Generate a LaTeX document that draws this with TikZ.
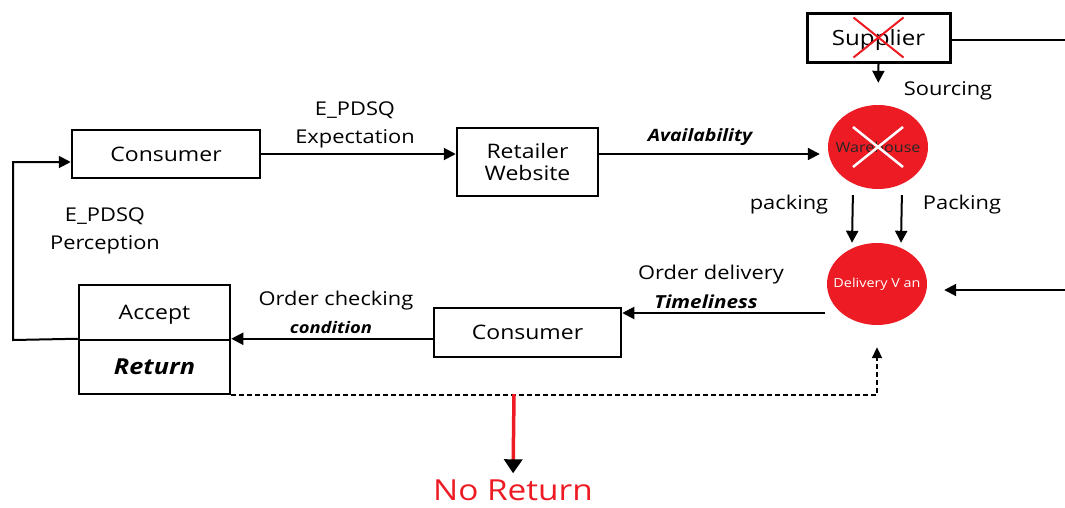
\documentclass[tikz,border=0pt]{standalone}
\usepackage{fontspec}
\setmainfont[FakeStretch=1.15]{Open Sans}
\usetikzlibrary{arrows.meta,shapes.geometric}
\definecolor{myred}{HTML}{ED1C24}
\begin{document}
\begin{tikzpicture}[x=1pt,y=-1pt,
  box/.style={draw, line width=2.5pt, inner sep=0pt, text depth=0pt},
  conn/.style={line width=2pt, -{Triangle[length=12pt,width=12pt]}},
  fs/.style={font=\fontsize{#1}{#1}\selectfont},
  lbl/.style={fs=19, inner sep=0pt, yshift=-3pt},
  bi/.style={inner sep=0pt, yshift=-2pt, font=\fontsize{#1}{#1}\selectfont\bfseries\itshape},
  oval/.style={ellipse, fill=myred, minimum width=100pt, inner sep=0pt},
]
\useasboundingbox (0,0) rectangle (1065,507);
% boxes
\node[box, line width=3pt, fs=21, minimum width=143pt, minimum height=49pt] (sup) at (878.5,37.5) {Supplier};
\node[box, fs=20, minimum width=188pt, minimum height=48pt] (cons1) at (166,154) {Consumer};
\node[box, fs=20, align=center, minimum width=141pt, minimum height=68pt] (web) at (527.5,162) {Retailer\\[2pt]Website};
\node[box, fs=20, minimum width=187pt, minimum height=49pt] (cons2) at (527.5,332.5) {Consumer};
\node[box, fs=20, minimum width=151pt, minimum height=55pt] (acc) at (154.5,312.5) {Accept};
\node[box, minimum width=151pt, minimum height=54pt, font=\fontsize{22}{22}\selectfont\bfseries\itshape] (ret) at (154.5,367) {Return};
% ellipses
\node[oval, minimum height=84pt, fs=14, text=black!85] (wh) at (878,147) {\makebox[0pt]{Warehouse}};
\node[oval, minimum height=82pt, fs=12.5, text=white] (van) at (877,284) {\makebox[0pt]{Delivery V an}};
% crosses
\draw[myred, line width=2pt] ([shift={(-25,-20)}]sup.center) -- ([shift={(25,20)}]sup.center)
  ([shift={(-25,20)}]sup.center) -- ([shift={(25,-20)}]sup.center);
\draw[white, line width=2.5pt] ([shift={(-25,-20)}]wh.center) -- ([shift={(25,20)}]wh.center)
  ([shift={(-25,20)}]wh.center) -- ([shift={(25,-20)}]wh.center);
% coordinates
\coordinate (supR) at (1065,40);
\coordinate (vanR) at (1065,290);
\coordinate (fb) at (13,340);
\coordinate (nr) at (514,394);
% connectors
\draw[line width=2pt] (sup.east |- supR) -- (supR);
\draw[conn, shorten >=22pt] (sup.south) -- (wh.north);
\draw[conn, shorten >=8pt] (web.east |- 0,154) -- (wh.west |- 0,154);
\draw[conn, shorten <=6pt] ([xshift=-25pt]wh.south) -- ([xshift=-25pt]van.north);
\draw[conn, shorten <=6pt] ([xshift=24pt]wh.south) -- ([xshift=24pt]van.north);
\draw[conn, shorten >=17pt] (vanR) -- (van.east |- vanR);
\draw[conn, shorten <=2pt] (van.west |- 0,313) -- (cons2.east |- 0,313);
\draw[conn] (cons2.west |- ret.north east) -- (ret.north east);
\draw[conn] (ret.north west) -- (fb) |- ([yshift=-8pt]cons1.west);
\draw[conn] (cons1.east) -- (cons1.east -| web.west);
\draw[line width=2pt, dash pattern=on 5pt off 3pt, -{Triangle[length=11pt,width=10pt]}] (ret.south east) -| ([yshift=-22pt]van.south);
\node[fs=29, text=myred, inner sep=0pt] (noret) at (513,490) {No Return};
\draw[myred, line width=3.5pt, shorten >=6pt, -{Triangle[length=14pt,width=18pt,color=black]}] (nr) -- (noret.north);
% labels
\node[lbl, align=center] (lexp) at (355,122) {E\_PDSQ\\[9pt]Expectation};
\node[bi=17] (lav) at (700,135) {Availability};
\node[lbl] (lsrc) at (948,88) {Sourcing};
\node[lbl] (lpk1) at (789,202) {packing};
\node[lbl] (lpk2) at (962,202) {Packing};
\node[lbl] (lod) at (711,272) {Order delivery};
\node[bi=18] (ltm) at (706,300) {Timeliness};
\node[lbl] (loc) at (336,298) {Order checking};
\node[bi=16] (lcd) at (331,325) {condition};
\node[lbl, align=center] (lper) at (105,228) {E\_PDSQ\\[9pt]Perception};
\end{tikzpicture}
\end{document}
